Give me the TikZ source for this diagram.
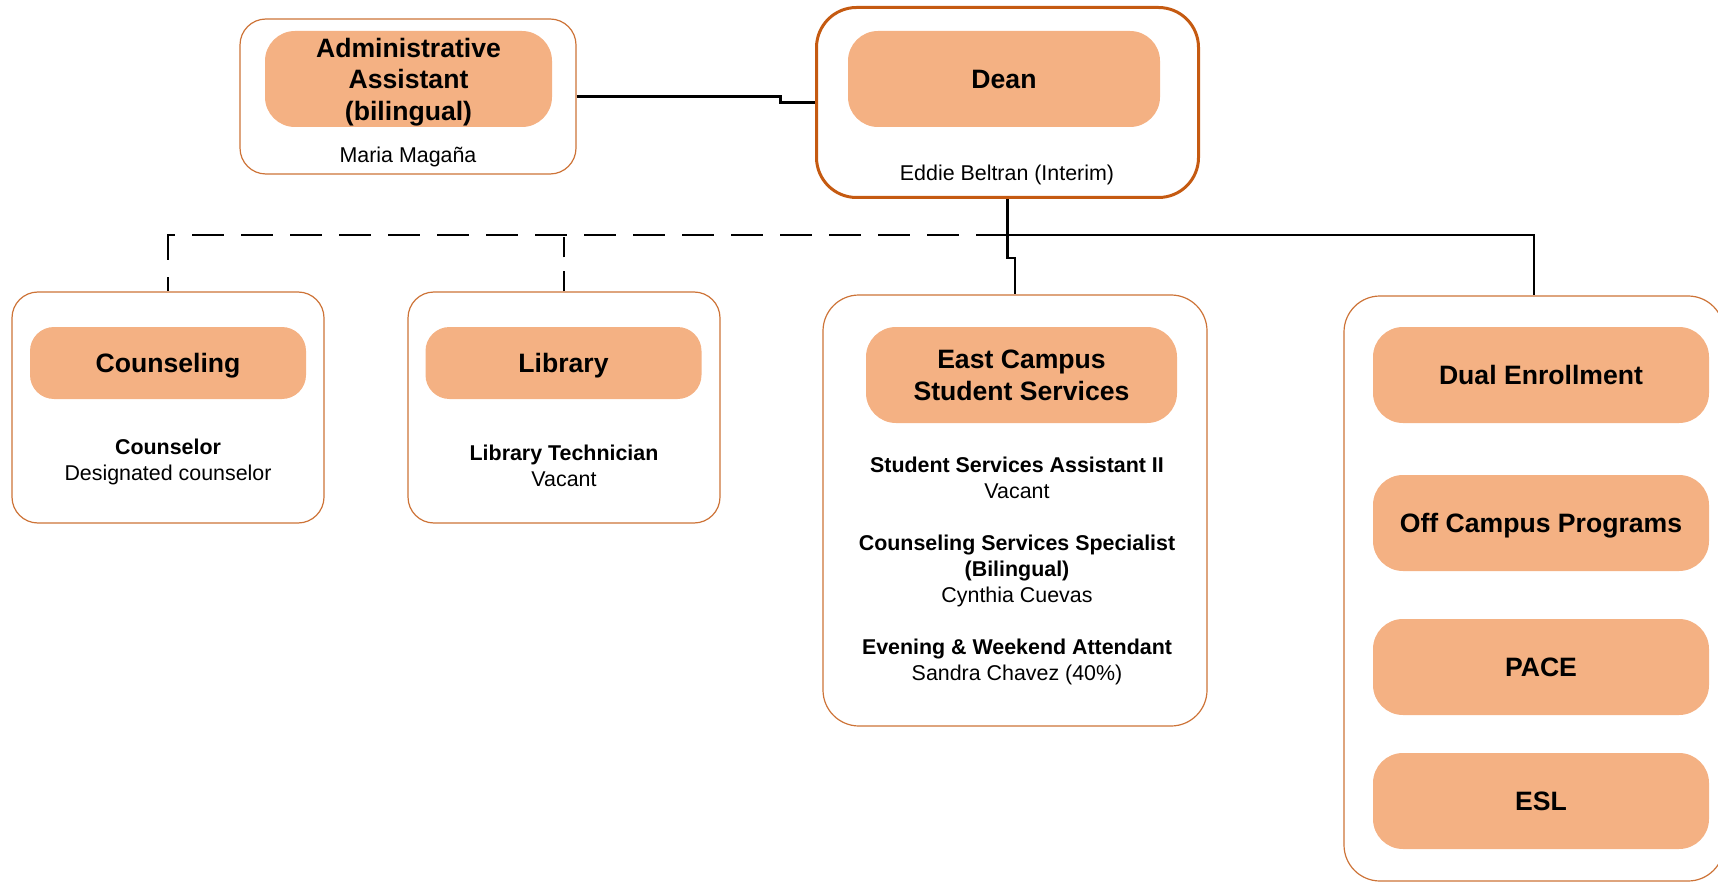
\documentclass[tikz,border=0pt]{standalone}
\usepackage{fontspec}
\setmainfont{Liberation Sans}
\definecolor{unitfill}{HTML}{F4B183}
\definecolor{deanline}{HTML}{C55A11}
\definecolor{unitline}{RGB}{205,115,55}

\begin{document}
\begin{tikzpicture}[x=0.5pt,y=-0.5pt,
  unitbox/.style={draw=unitline,line width=0.6pt,rounded corners=13pt,inner sep=0pt},
  unithead/.style={fill=unitfill,rounded corners=15pt,inner sep=0pt,minimum width=138pt,
    minimum height=48pt,text depth=0pt,align=center,font=\fontsize{13.3}{15.8}\selectfont\bfseries},
  people/.style={align=center,font=\fontsize{10.7}{13}\selectfont},
  link/.style={line width=1.2pt},
  dashlink/.style={line width=1.2pt,dash pattern=on 16pt off 8.5pt}]

\useasboundingbox (0,0) rectangle (1718,882);

% top row
\node[unitbox,minimum width=168pt,minimum height=77.5pt] (admin) at (408,96.5) {};
\node[unithead,minimum width=143.5pt] (adminhead) at (408.5,79) {Administrative\\Assistant\\(bilingual)};
\node[people] (adminname) at (408,157) {Maria Magaña};

\node[unitbox,draw=deanline,line width=1.5pt,rounded corners=20pt,minimum width=191pt,minimum height=95pt] (dean) at (1007.5,102.5) {};
\node[unithead,minimum width=156pt] (deanhead) at (1004,79) {Dean};
\node[people] (deanname) at (1007,175) {Eddie Beltran (Interim)};

% second row
\node[unitbox,minimum width=156pt,minimum height=115.5pt] (couns) at (168,407.5) {};
\node[unithead,rounded corners=12pt,minimum height=36pt] (counshead) at (168,363) {Counseling};
\node[people] (counsstaff) at (168,462) {\textbf{Counselor}\\Designated counselor};

\node[unitbox,minimum width=156pt,minimum height=115.5pt] (lib) at (564,407.5) {};
\node[unithead,rounded corners=12pt,minimum height=36pt] (libhead) at (563.5,363) {Library};
\node[people] (libstaff) at (564,466) {\textbf{Library Technician}\\Vacant};

\node[unitbox,rounded corners=18pt,minimum width=192pt,minimum height=215.5pt] (east) at (1015,510.5) {};
\node[unithead,minimum width=155.5pt] (easthead) at (1021.5,375) {East Campus\\Student Services};
\node[people] (eaststaff) at (1017,571) {\textbf{Student Services Assistant II}\\Vacant\\[13pt]
  \textbf{Counseling Services Specialist}\\\textbf{(Bilingual)}\\Cynthia Cuevas\\[13pt]
  \textbf{Evening \& Weekend Attendant}\\Sandra Chavez (40\%)};

\node[unitbox,rounded corners=18pt,minimum width=190pt,minimum height=292.5pt] (pgm) at (1534,588.5) {};
\node[unithead,minimum width=168pt] (dual) at (1541,375) {Dual Enrollment};
\node[unithead,minimum width=168pt] (offc) at (1541,523) {Off Campus Programs};
\node[unithead,minimum width=168pt] (pace) at (1541,667) {PACE};
\node[unithead,minimum width=168pt] (esl) at (1541,801) {ESL};

% lines
\coordinate (bus) at (1007.5,235);
\coordinate (jog) at (1007.5,258);
\draw[link] (admin.east) -- ++(204,0) |- (dean.west);
\draw[link] (dean.south) -- (bus) -| (pgm.north);
\draw[link] (bus) -- (jog) -| (east.north);
\draw[dashlink] (bus) -| (couns.north);
\draw[dashlink,dash pattern=on 10pt off 7pt] (lib.north) -- (lib.north |- bus);
\end{tikzpicture}
\end{document}
